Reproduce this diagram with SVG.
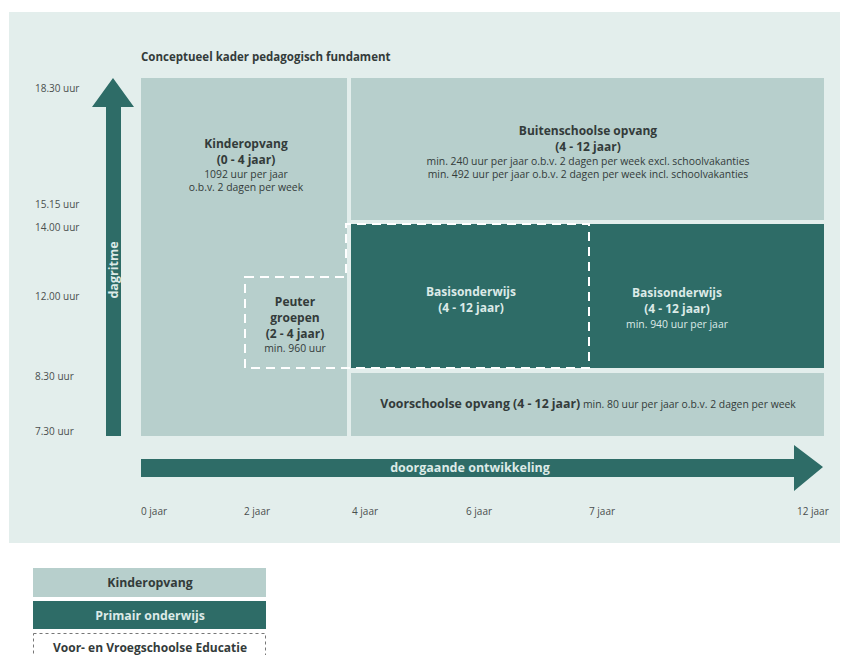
<svg xmlns="http://www.w3.org/2000/svg" width="847" height="655" viewBox="0 0 847 655">
<defs>
<style>
.bg{fill:#e3eeec}
.light{fill:#b7cfcc}
.dark{fill:#2e6c67}
.t{font-family:"Open Sans","Liberation Sans",sans-serif;fill:#333b3a}
.b{font-weight:700}
.c{text-anchor:middle}
.w{fill:#dceae7}
.s{font-size:10.4px}
.m{font-size:12px}
.ax{font-size:10px;fill:#4a4f4e}
.dash{fill:none;stroke:#ffffff;stroke-width:2;stroke-dasharray:9 6}
</style>
</defs>
<rect width="847" height="655" fill="#ffffff"/>
<rect class="bg" x="9" y="12" width="831" height="531"/>
<text class="t b" x="141" y="61" font-size="11.5">Conceptueel kader pedagogisch fundament</text>

<g id="tijden">
<text class="t ax" x="35" y="92">18.30 uur</text>
<text class="t ax" x="35" y="208">15.15 uur</text>
<text class="t ax" x="35" y="231">14.00 uur</text>
<text class="t ax" x="35" y="300">12.00 uur</text>
<text class="t ax" x="35" y="380">8.30 uur</text>
<text class="t ax" x="35" y="435">7.30 uur</text>
</g>

<g id="kinderopvang">
<rect class="light" x="141" y="78" width="206" height="358"/>
<text class="t b c m" x="246" y="148">Kinderopvang</text>
<text class="t b c m" x="246" y="164">(0 - 4 jaar)</text>
<text class="t c s" x="246" y="178">1092 uur per jaar</text>
<text class="t c s" x="246" y="191">o.b.v. 2 dagen per week</text>
</g>

<g id="buitenschoolse-opvang">
<rect class="light" x="351" y="78" width="473" height="142"/>
<text class="t b c m" x="588" y="135">Buitenschoolse opvang</text>
<text class="t b c m" x="588" y="151">(4 - 12 jaar)</text>
<text class="t c s" x="588" y="165">min. 240 uur per jaar o.b.v. 2 dagen per week excl. schoolvakanties</text>
<text class="t c s" x="588" y="178">min. 492 uur per jaar o.b.v. 2 dagen per week incl. schoolvakanties</text>
</g>

<g id="basisonderwijs">
<rect class="dark" x="351" y="224" width="473" height="144"/>
<text class="t b c m w" x="471" y="296">Basisonderwijs</text>
<text class="t b c m w" x="471" y="312">(4 - 12 jaar)</text>
<text class="t b c m w" x="677" y="297">Basisonderwijs</text>
<text class="t b c m w" x="677" y="313">(4 - 12 jaar)</text>
<text class="t c s w" x="677" y="328">min. 940 uur per jaar</text>
</g>

<g id="voorschoolse-opvang">
<rect class="light" x="351" y="373" width="473" height="63"/>
<text class="t" x="588" y="408" text-anchor="middle"><tspan class="b" font-size="12.3">Voorschoolse opvang (4 - 12 jaar)</tspan><tspan font-size="10.4"> min. 80 uur per jaar o.b.v. 2 dagen per week</tspan></text>
</g>

<g id="peutergroepen">
<text class="t b c m" x="295" y="306">Peuter</text>
<text class="t b c m" x="295" y="322">groepen</text>
<text class="t b c m" x="295" y="338">(2 - 4 jaar)</text>
<text class="t c s" x="295" y="352">min. 960 uur</text>
</g>

<g id="connectors">
<path class="dash" d="M245,277 H346 V224 H589 V368 H245 Z"/>
<path class="dark" d="M106,436 V107 H92 L113,78 L134,107 H121 V436 Z"/>
<text class="t b w" font-size="12.5" transform="translate(118,270) rotate(-90)" text-anchor="middle">dagritme</text>
<path class="dark" d="M141,459 H794 V445 L823,467 L794,491 V477 H141 Z"/>
<text class="t b c w" font-size="12.5" x="470" y="472">doorgaande ontwikkeling</text>
</g>

<g id="leeftijden">
<text class="t ax" x="141" y="515">0 jaar</text>
<text class="t ax" x="244" y="515">2 jaar</text>
<text class="t ax" x="352" y="515">4 jaar</text>
<text class="t ax" x="466" y="515">6 jaar</text>
<text class="t ax" x="589" y="515">7 jaar</text>
<text class="t ax" x="797" y="515">12 jaar</text>
</g>

<g id="legenda">
<rect class="light" x="33" y="568" width="233" height="29"/>
<text class="t b c" font-size="12.3" x="150" y="587">Kinderopvang</text>
<rect class="dark" x="33" y="601" width="233" height="28"/>
<text class="t b c w" font-size="12.3" x="150" y="619.5">Primair onderwijs</text>
<rect x="33.5" y="633.5" width="232" height="30" fill="#ffffff" stroke="#777" stroke-width="1" stroke-dasharray="3 3"/>
<text class="t b c" font-size="12" x="150" y="652">Voor- en Vroegschoolse Educatie</text>
</g>
</svg>
